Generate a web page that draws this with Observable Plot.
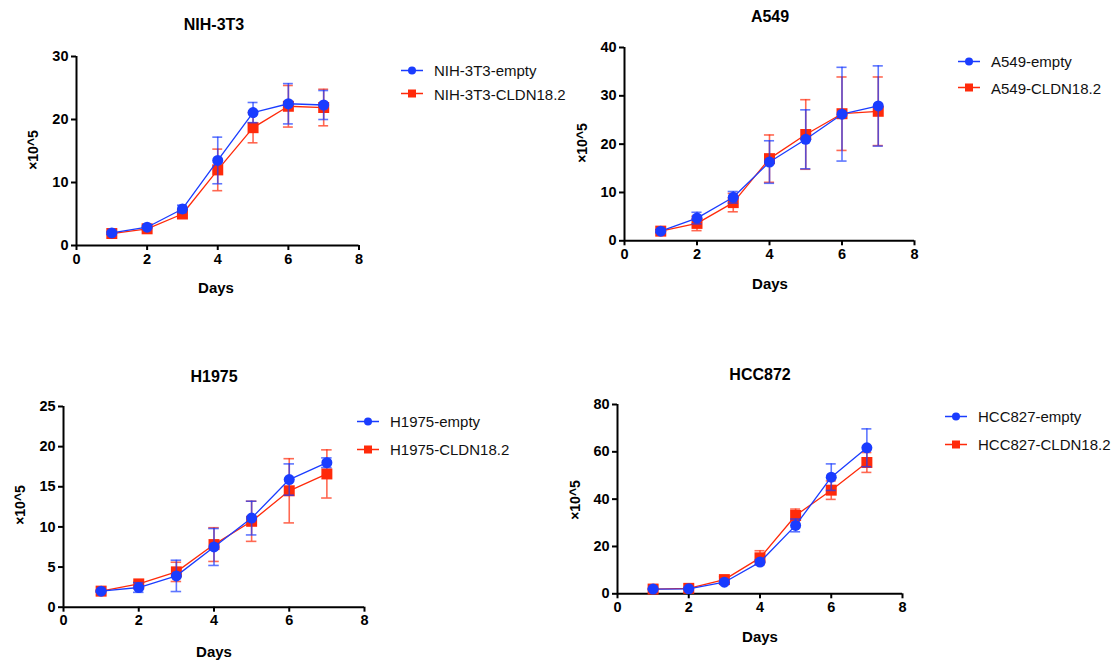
<!DOCTYPE html>
<html>
<head>
<meta charset="utf-8">
<script src="https://cdn.jsdelivr.net/npm/d3@7"></script>
<script src="https://cdn.jsdelivr.net/npm/@observablehq/plot@0.6"></script>
<style>
  html, body { margin: 0; padding: 0; background: #fff; }
  body { position: relative; width: 1118px; height: 662px; overflow: hidden; font-family: "Liberation Sans", Arial, Helvetica, sans-serif; }
  .abs { position: absolute; }
  .title { font-weight: bold; font-size: 16px; transform: translate(-50%, -50%); white-space: nowrap; color: #000; }
  .xlab { font-weight: bold; font-size: 15px; transform: translate(-50%, -50%); white-space: nowrap; color: #000; }
  .ylab { font-weight: bold; font-size: 14px; transform: translate(-50%, -50%) rotate(-90deg); white-space: nowrap; color: #000; }
  .leg { font-size: 15px; color: #111; white-space: nowrap; }
  .legrow { position: absolute; display: flex; align-items: center; transform: translateY(-50%); }
  .legrow svg { display: block; margin-right: 11px; }
  .cc text { font-size: 14.5px !important; font-weight: bold !important; fill: #000; }
</style>
</head>
<body>
<script>
// ---- data ----
const days = [1, 2, 3, 4, 5, 6, 7];
const xTicks = [0, 2, 4, 6, 8];

const panelTitles = ["NIH-3T3", "A549", "H1975", "HCC872"];
const emptyNames = ["NIH-3T3-empty", "A549-empty", "H1975-empty", "HCC827-empty"];
const cldnNames = ["NIH-3T3-CLDN18.2", "A549-CLDN18.2", "H1975-CLDN18.2", "HCC827-CLDN18.2"];
const yMax = [30, 40, 25, 80];
const yTicksNih = [0, 10, 20, 30];
const yTicksA549 = [0, 10, 20, 30, 40];
const yTicksH1975 = [0, 5, 10, 15, 20, 25];
const yTicksHcc = [0, 20, 40, 60, 80];

const nihEmptyMean = [2.0, 2.9, 5.8, 13.5, 21.1, 22.5, 22.3];
const nihEmptySd   = [0.2, 0.2, 0.6, 3.7, 1.6, 3.2, 2.3];
const nihCldnMean  = [1.9, 2.65, 5.0, 12.0, 18.7, 22.1, 21.9];
const nihCldnSd    = [0.2, 0.2, 0.3, 3.3, 2.4, 3.3, 2.9];

const a549EmptyMean = [2.0, 4.7, 9.0, 16.3, 21.0, 26.2, 27.9];
const a549EmptySd   = [0.3, 1.2, 1.2, 4.4, 6.1, 9.7, 8.3];
const a549CldnMean  = [2.0, 3.6, 7.9, 17.0, 22.0, 26.3, 26.8];
const a549CldnSd    = [0.3, 1.5, 1.9, 4.9, 7.2, 7.6, 7.1];

const h1975EmptyMean = [2.0, 2.45, 3.9, 7.5, 11.1, 15.9, 18.0];
const h1975EmptySd   = [0.1, 0.6, 1.95, 2.3, 2.1, 1.95, 0.6];
const h1975CldnMean  = [2.0, 2.9, 4.4, 7.8, 10.7, 14.5, 16.6];
const h1975CldnSd    = [0.1, 0.2, 1.2, 2.1, 2.5, 4.0, 3.0];

const hccEmptyMean = [2.0, 2.1, 4.9, 13.4, 28.9, 49.3, 61.7];
const hccEmptySd   = [0.2, 0.3, 0.6, 1.0, 2.7, 5.6, 8.0];
const hccCldnMean  = [2.0, 2.3, 6.0, 15.2, 33.1, 43.8, 55.5];
const hccCldnSd    = [0.3, 0.4, 1.3, 3.0, 2.7, 3.9, 4.2];

// ---- layout (page pixels) ----
const layout = [
  {L: 75.5, R: 358, T: 56, B: 245, title: [214, 25], xlab: [216, 287], ylab: [33, 150], leg: {x: 401, y: 70, dy: 23.5}},
  {L: 624, R: 914, T: 46.7, B: 240, title: [770, 17], xlab: [770, 283], ylab: [582, 143], leg: {x: 958, y: 61, dy: 26.5}},
  {L: 63.3, R: 364.3, T: 406, B: 606.7, title: [214, 377], xlab: [214, 651], ylab: [20, 505], leg: {x: 357, y: 421, dy: 28}},
  {L: 616.7, R: 901.7, T: 404, B: 593.3, title: [760, 375], xlab: [760, 636], ylab: [575, 500], leg: {x: 945, y: 416, dy: 28}}
];

const BLUE = "#1a3cff";
const RED = "#ff2a0a";

const panels = [
  {empty: [nihEmptyMean, nihEmptySd], cldn: [nihCldnMean, nihCldnSd], yTicks: yTicksNih},
  {empty: [a549EmptyMean, a549EmptySd], cldn: [a549CldnMean, a549CldnSd], yTicks: yTicksA549},
  {empty: [h1975EmptyMean, h1975EmptySd], cldn: [h1975CldnMean, h1975CldnSd], yTicks: yTicksH1975},
  {empty: [hccEmptyMean, hccEmptySd], cldn: [hccCldnMean, hccCldnSd], yTicks: yTicksHcc}
];

const mL = 50, mR = 10, mT = 10, mB = 50;

function addText(cls, txt, x, y) {
  const d = document.createElement("div");
  d.className = "abs " + cls;
  d.textContent = txt;
  d.style.left = x + "px";
  d.style.top = y + "px";
  document.body.appendChild(d);
}

panels.forEach((p, i) => {
  const lay = layout[i];
  const mk = (arr, name) => days.map((day, k) => ({day, mean: arr[0][k], sd: arr[1][k], series: name}));
  const cl = mk(p.cldn, cldnNames[i]);
  const em = mk(p.empty, emptyNames[i]);
  const capHalf = 0.14;
  const seriesMarks = (rows, color, symbol, r) => [
    Plot.ruleX(rows, {x: "day", y1: d => d.mean - d.sd, y2: d => d.mean + d.sd, stroke: color, strokeWidth: 1.6, strokeOpacity: 0.7}),
    Plot.ruleY(rows, {y: d => d.mean + d.sd, x1: d => d.day - capHalf, x2: d => d.day + capHalf, stroke: color, strokeWidth: 1.6, strokeOpacity: 0.7}),
    Plot.ruleY(rows, {y: d => d.mean - d.sd, x1: d => d.day - capHalf, x2: d => d.day + capHalf, stroke: color, strokeWidth: 1.6, strokeOpacity: 0.7}),
    Plot.line(rows, {x: "day", y: "mean", stroke: color, strokeWidth: 1.3}),
    Plot.dot(rows, {x: "day", y: "mean", fill: color, stroke: "none", symbol, r})
  ];
  const chart = Plot.plot({
    width: (lay.R - lay.L) + mL + mR,
    height: (lay.B - lay.T) + mT + mB,
    marginLeft: mL, marginRight: mR, marginTop: mT, marginBottom: mB,
    x: {domain: [0, 8]},
    y: {domain: [0, yMax[i]]},
    style: {fontFamily: "'Liberation Sans', Arial, sans-serif", fontSize: "14.5px", fontWeight: "bold", color: "#000", background: "transparent", overflow: "visible"},
    marks: [
      Plot.axisX({ticks: xTicks, tickSize: 5, tickPadding: 3, strokeWidth: 2, label: null}),
      Plot.axisY({ticks: p.yTicks, tickSize: 5, tickPadding: 3, strokeWidth: 2, label: null}),
      Plot.ruleY([0], {strokeWidth: 2, stroke: "#000"}),
      Plot.ruleX([0], {strokeWidth: 2, stroke: "#000"}),
      ...seriesMarks(cl, RED, "square", 6.2),
      ...seriesMarks(em, BLUE, "circle", 5.5)
    ]
  });
  chart.classList.add("cc");
  chart.style.position = "absolute";
  chart.style.left = (lay.L - mL) + "px";
  chart.style.top = (lay.T - mT) + "px";
  document.body.appendChild(chart);

  addText("title", panelTitles[i], lay.title[0], lay.title[1]);
  addText("xlab", "Days", lay.xlab[0], lay.xlab[1]);
  addText("ylab", "×10^5", lay.ylab[0], lay.ylab[1]);

  // legend
  [[emptyNames[i], BLUE, "circle"], [cldnNames[i], RED, "square"]].forEach(([name, color, sym], j) => {
    const row = document.createElement("div");
    row.className = "legrow leg";
    row.style.left = lay.leg.x + "px";
    row.style.top = (lay.leg.y + j * lay.leg.dy) + "px";
    const svg = d3.create("svg").attr("width", 22).attr("height", 12);
    svg.append("line").attr("x1", 0).attr("x2", 22).attr("y1", 6).attr("y2", 6).attr("stroke", color).attr("stroke-width", 1.5);
    if (sym === "circle") svg.append("circle").attr("cx", 11).attr("cy", 6).attr("r", 4).attr("fill", color);
    else svg.append("rect").attr("x", 7).attr("y", 2).attr("width", 8).attr("height", 8).attr("fill", color);
    row.appendChild(svg.node());
    const t = document.createElement("span");
    t.textContent = name;
    row.appendChild(t);
    document.body.appendChild(row);
  });
});
</script>
</body>
</html>
